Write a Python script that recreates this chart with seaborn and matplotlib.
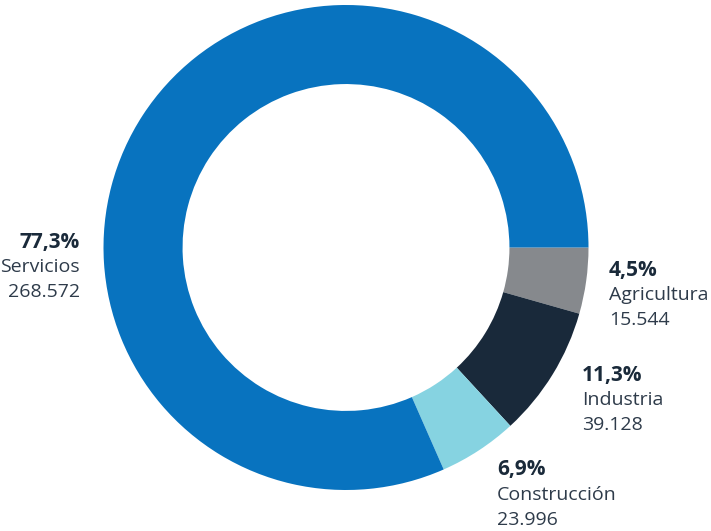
# %% Import packages

import matplotlib
matplotlib.use('Agg')
import matplotlib.pyplot as plt
import seaborn as sns

# %% Data

sectors = ['Agricultura', 'Industria', 'Construcción', 'Servicios']
share_labels = ['4,5%', '11,3%', '6,9%', '77,3%']
workers = ['15.544', '39.128', '23.996', '268.572']
#Arc sizes as drawn in the source graphic (they do not follow the printed %)
arc_shares = [4.4, 8.75, 5.25, 81.6]

# %% Set-up

sns.set_theme(style = 'white')
plt.rcParams['font.family'] = ['Open Sans', 'DejaVu Sans']

colours = ['#86898d', '#19293a', '#86d3e1', '#0873bf']
txtBold = '#1a2a3a'
txtReg = '#2e3b4a'

#Figure geometry in pixels (donut centre and radius)
W, H = 711, 531
cx, cy, R = 346, 247.5, 242.5

fig = plt.figure(figsize = (W/100, H/100), dpi = 100)
ax = fig.add_axes([0, 0, 1, 1])

#Donut
ax.pie(arc_shares, colors = colours, startangle = 0, counterclock = False,
       radius = 1, wedgeprops = dict(width = 0.326, edgecolor = 'none'))

#Limits after pie (pie resets them)
ax.set_xlim(-cx/R, (W-cx)/R)
ax.set_ylim((cy-H)/R, cy/R)
ax.set_aspect('equal')
ax.axis('off')

#Helper to convert pixels to data coordinates
def px(x, y):
    return (x-cx)/R, (cy-y)/R

#Label anchors (x, y of first line centre, alignment)
anchors = [(609, 270, 'left'), (582, 375, 'left'), (497, 470, 'left'), (80, 242, 'right')]
lineGap = 25

for i, (x, y, ha) in enumerate(anchors):
    ax.text(*px(x, y), share_labels[i], fontsize = 15, fontweight = 'bold',
            color = txtBold, ha = ha, va = 'center')
    ax.text(*px(x, y+lineGap), sectors[i], fontsize = 14,
            color = txtReg, ha = ha, va = 'center')
    ax.text(*px(x, y+2*lineGap), workers[i], fontsize = 14,
            color = txtReg, ha = ha, va = 'center')

fig.savefig('out.png', dpi = 100, facecolor = 'white')
